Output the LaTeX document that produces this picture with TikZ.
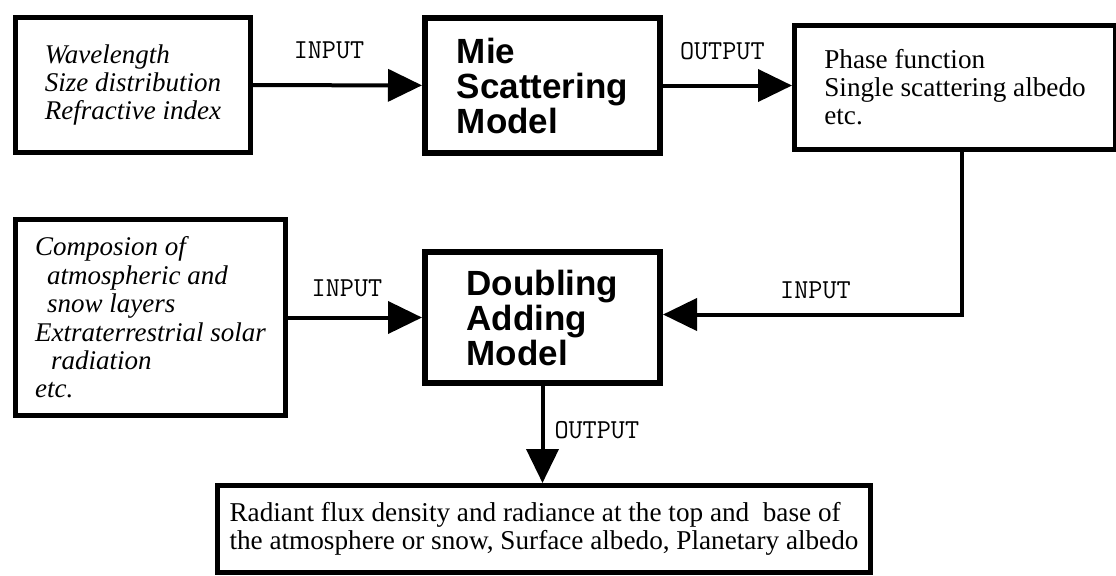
\documentclass[tikz,border=0pt]{standalone}
\usepackage{fontspec}
\setmainfont{Liberation Serif}
\setsansfont{Liberation Sans}
\usetikzlibrary{arrows.meta}

\begin{document}
\begin{tikzpicture}[x=0.5pt, y=-0.5pt,
    box/.style={draw, line width=2.5pt, align=left, inner sep=0pt, font=\fontsize{13.6pt}{14pt}\selectfont},
    inbox/.style={box, font=\fontsize{13.5pt}{14.2pt}\selectfont\itshape},
    model/.style={box, line width=3pt, font=\fontsize{17.5pt}{17.5pt}\selectfont\sffamily\bfseries},
    flow/.style={line width=2pt, -{Triangle[length=17pt, width=16pt]}},
    tag/.style={font=\fontsize{13.7pt}{13.7pt}\selectfont\ttfamily, inner sep=0pt}]
    \useasboundingbox (0, 0) rectangle (1116, 575);

    \node [inbox, anchor=north west, minimum width=117.5pt, minimum height=67.5pt] (optics) at (13, 15)
        {Wavelength\\Size distribution\\Refractive index};
    \node [model, anchor=north west, minimum width=117.5pt, minimum height=67.5pt] (mie) at (422, 15)
        {Mie\\Scattering\\Model};
    \node [box, anchor=north west, minimum width=160.5pt, minimum height=62pt] (phase) at (792, 23)
        {Phase function\\Single scattering albedo\\etc.};

    \node [inbox, anchor=north west, minimum width=135pt, minimum height=98pt] (layers) at (13, 217)
        {Composion of\\\hspace*{6pt}atmospheric and\\\hspace*{6pt}snow layers\\Extraterrestrial~solar\\\hspace*{8pt}radiation\\etc.};
    \node [model, anchor=north west, minimum width=117.5pt, minimum height=65.5pt] (adding) at (422, 249)
        {Doubling\\Adding\\Model};

    \node [box, anchor=north west, minimum width=326.5pt, minimum height=43.5pt] (flux) at (215, 483)
        {Radiant flux density and radiance at the top and~ base of\\the atmosphere or snow, Surface albedo, Planetary albedo};

    \coordinate (turn) at (962, 314.5);

    \draw [flow] (optics) -- (mie) node [tag, pos=0.45, above=12pt] {INPUT};
    \draw [flow] (mie.east) -- (mie.east -| phase.west) node [tag, pos=0.46, above=12pt] {OUTPUT};
    \draw [flow] (phase.south -| turn) -- (turn) -- (adding.east |- turn) node [tag, pos=0.49, above=7pt] {INPUT};
    \draw [flow] (layers) -- (adding) node [tag, pos=0.44, above=9.5pt] {INPUT};
    \draw [flow] (adding) -- (adding |- flux.north) node [tag, pos=0.45, right=5pt] {OUTPUT};
  \end{tikzpicture}
\end{document}
